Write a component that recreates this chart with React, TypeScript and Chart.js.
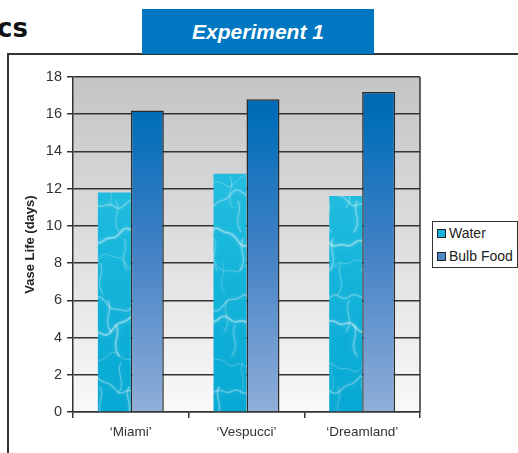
import React, { useEffect, useRef } from "react";
import { Chart, registerables } from "chart.js";

Chart.register(...registerables);

const categories = ["\u2018Miami\u2019", "\u2018Vespucci\u2019", "\u2018Dreamland\u2019"];
const waterValues = [11.8, 12.8, 11.6];
const bulbFoodValues = [16.2, 16.8, 17.2];
const seriesNames = ["Water", "Bulb Food"];
const yMin = 0;
const yMax = 18;
const yStep = 2;
const chartTitle = "Experiment 1";
const yAxisTitle = "Vase Life (days)";
const headerFragment = "cs";

const FONT = "'Liberation Sans', Arial, Helvetica, sans-serif";

function makeWaterPattern(ctx: CanvasRenderingContext2D, top: number, height: number) {
  const w = 90;
  const h = Math.max(40, Math.ceil(height));
  const c = document.createElement("canvas");
  c.width = w;
  c.height = h;
  const g = c.getContext("2d")!;
  const grad = g.createLinearGradient(0, 0, 0, h);
  grad.addColorStop(0, "#34c6e3");
  grad.addColorStop(0.5, "#18b7dc");
  grad.addColorStop(1, "#06a8d3");
  g.fillStyle = grad;
  g.fillRect(0, 0, w, h);
  // caustic-like light network (texture only)
  g.lineCap = "round";
  g.lineJoin = "round";
  g.shadowColor = "rgba(255,255,255,0.7)";
  g.shadowBlur = 4;
  for (let row = 0; row * 31 < h + 31; row++) {
    const y0 = row * 31 + (row % 2) * 7;
    g.strokeStyle = `rgba(255,255,255,${0.22 + (row % 3) * 0.08})`;
    g.lineWidth = 1 + (row % 3) * 0.5;
    g.beginPath();
    for (let x = 0; x <= w; x += 2) {
      const y =
        y0 +
        7 * Math.sin((x / w) * Math.PI * 2 + row * 1.7) +
        3 * Math.sin((x / w) * Math.PI * 4 + row * 2.3) +
        1.5 * Math.sin((x / w) * Math.PI * 10 + row);
      if (x === 0) g.moveTo(x, y);
      else g.lineTo(x, y);
    }
    g.stroke();
    for (let k = 0; k < 3; k++) {
      const x0 = (row * 37 + k * 29) % w;
      const dx = ((row + k) % 2 === 0 ? 1 : -1) * 6;
      g.strokeStyle = `rgba(255,255,255,${0.18 + ((row + k) % 3) * 0.08})`;
      g.beginPath();
      g.moveTo(x0, y0);
      g.bezierCurveTo(x0 + dx, y0 + 9, x0 - dx, y0 + 19, x0 + dx * 0.5, y0 + 31);
      g.stroke();
    }
  }
  const p = ctx.createPattern(c, "repeat")!;
  if ((p as any).setTransform) {
    (p as any).setTransform(new DOMMatrix().translate(0, top));
  }
  return p;
}

export default function App() {
  const canvasRef = useRef<HTMLCanvasElement | null>(null);

  useEffect(() => {
    const canvas = canvasRef.current;
    if (!canvas) return;

    const plotBg = {
      id: "plotBg",
      beforeDraw(chart: any) {
        const { ctx, chartArea } = chart;
        if (!chartArea) return;
        const g = ctx.createLinearGradient(0, chartArea.top, 0, chartArea.bottom);
        g.addColorStop(0, "#c3c4c6");
        g.addColorStop(1, "#f9f9f9");
        ctx.save();
        ctx.fillStyle = g;
        ctx.fillRect(chartArea.left, chartArea.top, chartArea.right - chartArea.left, chartArea.bottom - chartArea.top);
        ctx.restore();
      },
      beforeDatasetsDraw(chart: any) {
        const { ctx, chartArea } = chart;
        ctx.save();
        ctx.strokeStyle = "#333";
        ctx.lineWidth = 1.5;
        ctx.beginPath();
        ctx.moveTo(chartArea.right, chartArea.top);
        ctx.lineTo(chartArea.right, chartArea.bottom);
        ctx.stroke();
        ctx.restore();
      },
    };

    const chart = new Chart(canvas, {
      type: "bar",
      data: {
        labels: categories,
        datasets: [
          {
            label: seriesNames[0],
            data: waterValues,
            backgroundColor: (c: any) => {
              const ca = c.chart.chartArea;
              if (!ca) return "#16b6dc";
              return makeWaterPattern(c.chart.ctx, ca.top, ca.bottom - ca.top);
            },
            borderWidth: 0,
          },
          {
            label: seriesNames[1],
            data: bulbFoodValues,
            backgroundColor: (c: any) => {
              const ca = c.chart.chartArea;
              if (!ca) return "#4f86c6";
              const g = c.chart.ctx.createLinearGradient(0, ca.top, 0, ca.bottom);
              g.addColorStop(0, "#0064b2");
              g.addColorStop(0.12, "#006eb9");
              g.addColorStop(0.5, "#3f80c4");
              g.addColorStop(1, "#90aed9");
              return g;
            },
            borderColor: "#2a2a2a",
            borderWidth: 1.5,
          },
        ],
      },
      options: {
        animation: false,
        responsive: false,
        maintainAspectRatio: false,
        devicePixelRatio: window.devicePixelRatio || 1,
        layout: { padding: { left: 17, top: 77, right: 98, bottom: 8 } },
        datasets: { bar: { categoryPercentage: 0.57, barPercentage: 1.0 } },
        plugins: {
          legend: { display: false },
          tooltip: { enabled: false },
          title: { display: false },
        },
        scales: {
          x: {
            grid: {
              offset: true,
              drawOnChartArea: false,
              drawTicks: true,
              tickLength: 6,
              color: "#333",
              lineWidth: 1.5,
            },
            border: { color: "#333", width: 1.5 },
            ticks: { color: "#333", font: { family: FONT, size: 13.5 }, padding: 6 },
            afterFit: (s: any) => {
              s.height = 33;
            },
          },
          y: {
            min: yMin,
            max: yMax,
            ticks: { stepSize: yStep, color: "#333", font: { family: FONT, size: 14.5 }, padding: 5 },
            grid: { color: "#333", lineWidth: 1.5, tickLength: 6 },
            border: { color: "#333", width: 1.5 },
            title: {
              display: true,
              text: yAxisTitle,
              color: "#222",
              font: { family: FONT, size: 13, weight: "bold" },
              padding: { top: 6, bottom: 0 },
            },
            afterFit: (s: any) => {
              s.width = 56;
            },
          },
        },
      },
      plugins: [plotBg],
    } as any);

    return () => chart.destroy();
  }, []);

  return (
    <div style={{ position: "absolute", left: 0, top: 0, width: 518, height: 453, overflow: "hidden", background: "#fff", fontFamily: FONT }}>
      <div
        style={{
          position: "absolute",
          left: -3,
          top: 13,
          fontFamily: "'DejaVu Sans', sans-serif",
          fontWeight: 900,
          fontSize: 26,
          color: "#111",
          lineHeight: "30px",
        }}
      >
        {headerFragment}
      </div>
      <div style={{ position: "absolute", left: 7, top: 53, width: 511, height: 2, background: "#333" }} />
      <div style={{ position: "absolute", left: 7, top: 53, width: 2, height: 400, background: "#333" }} />
      <canvas ref={canvasRef} width={518} height={453} style={{ position: "absolute", left: 0, top: 0, width: 518, height: 453 }} />
      <div
        style={{
          position: "absolute",
          left: 142,
          top: 9,
          width: 232,
          height: 45,
          background: "#0078c1",
          color: "#fff",
          fontWeight: "bold",
          fontStyle: "italic",
          fontSize: 21,
          lineHeight: "45px",
          textAlign: "center",
        }}
      >
        {chartTitle}
      </div>
      <div
        style={{
          position: "absolute",
          left: 432,
          top: 221,
          width: 84,
          height: 45,
          border: "1px solid #333",
          background: "#fff",
          fontSize: 14,
          color: "#222",
        }}
      >
        {seriesNames.map((name, i) => (
          <div key={name} style={{ position: "absolute", left: 4, top: 3 + i * 23, height: 17, lineHeight: "17px", whiteSpace: "nowrap" }}>
            <span
              style={{
                display: "inline-block",
                width: 7,
                height: 7,
                border: "1px solid #222",
                background: i === 0 ? "#14b6dc" : "#4f86c6",
                marginRight: 3,
                verticalAlign: "0px",
              }}
            />
            {name}
          </div>
        ))}
      </div>
    </div>
  );
}
